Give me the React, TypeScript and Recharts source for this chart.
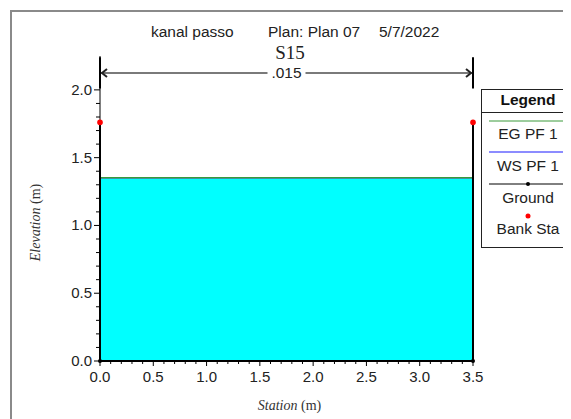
import { ComposedChart, Area, Line, Scatter, XAxis, YAxis, ReferenceLine } from "recharts";

// header text
const projectName = "kanal passo";
const planName = "Plan: Plan 07";
const planDate = "5/7/2022";
const sectionName = "S15";
const manningN = ".015";

// ground profile
const groundStation = [0, 0, 3.5, 3.5];
const groundElev = [1.76, 0, 0, 1.76];

// bank stations
const bankStation = [0, 3.5];
const bankElev = [1.76, 1.76];

// water surface
const waterStation = [0, 3.5];
const wsElev = [1.35, 1.35];
const egElev = [1.352, 1.352];

// ticks
const xTicks = [0, 0.1, 0.2, 0.3, 0.4, 0.5, 0.6, 0.7, 0.8, 0.9, 1, 1.1, 1.2, 1.3, 1.4, 1.5, 1.6, 1.7, 1.8, 1.9, 2, 2.1, 2.2, 2.3, 2.4, 2.5, 2.6, 2.7, 2.8, 2.9, 3, 3.1, 3.2, 3.3, 3.4, 3.5];
const xMajor = [0, 0.5, 1, 1.5, 2, 2.5, 3, 3.5];
const yTicks = [0, 0.1, 0.2, 0.3, 0.4, 0.5, 0.6, 0.7, 0.8, 0.9, 1, 1.1, 1.2, 1.3, 1.4, 1.5, 1.6, 1.7, 1.8, 1.9, 2];
const yMajor = [0, 0.5, 1, 1.5, 2];

// n-value marker above the section
const markerLow = 2.01;
const markerHigh = 2.24;
const arrowElev = 2.125;

const legendItems = ["EG PF 1", "WS PF 1", "Ground", "Bank Sta"];

const groundData = groundStation.map((x, i) => ({ x, y: groundElev[i] }));
const bankData = bankStation.map((x, i) => ({ x, y: bankElev[i] }));
const waterData = waterStation.map((x, i) => ({ x, ws: wsElev[i], eg: egElev[i] }));

const sans = "Arial, 'Liberation Sans', sans-serif";
const serif = "'Times New Roman', 'Liberation Serif', serif";

const YTick = (props: any) => {
  const { x, y, payload } = props;
  const major = yMajor.includes(payload.value);
  return (
    <g>
      <line x1={x} x2={x - (major ? 6 : 4)} y1={y} y2={y} stroke="#000" />
      {major && (
        <text x={x - 8} y={y + 5} textAnchor="end" fontFamily={sans} fontSize={15} fill="#222">
          {payload.value.toFixed(1)}
        </text>
      )}
    </g>
  );
};

const XTick = (props: any) => {
  const { x, y, payload } = props;
  const major = xMajor.includes(payload.value);
  return (
    <g>
      <line x1={x} x2={x} y1={y} y2={y + (major ? 5 : 3)} stroke="#000" />
      {major && (
        <text x={x} y={y + 21} textAnchor="middle" fontFamily={sans} fontSize={15} fill="#222">
          {payload.value.toFixed(1)}
        </text>
      )}
    </g>
  );
};

const YLabel = (props: any) => {
  const { viewBox } = props;
  const cx = viewBox.x - 15;
  const cy = viewBox.y + viewBox.height / 2 + 14;
  return (
    <text x={cx} y={cy} transform={`rotate(-90 ${cx} ${cy})`} textAnchor="middle" fontFamily={serif} fontSize={14} fill="#333" dy={5}>
      <tspan fontStyle="italic">Elevation</tspan>
      <tspan> (m)</tspan>
    </text>
  );
};

const XLabel = (props: any) => {
  const { viewBox } = props;
  return (
    <text x={viewBox.x + viewBox.width / 2 + 3} y={viewBox.y + 49} textAnchor="middle" fontFamily={serif} fontSize={14} fill="#333">
      <tspan fontStyle="italic">Station</tspan>
      <tspan> (m)</tspan>
    </text>
  );
};

const ArrowShape = (props: any) => {
  const { x1, y1, x2 } = props;
  const mid = (x1 + x2) / 2;
  return (
    <g>
      <line x1={x1 + 1} x2={mid - 19} y1={y1} y2={y1} stroke="#7a7a7a" strokeWidth={2} />
      <line x1={mid + 19} x2={x2 - 1} y1={y1} y2={y1} stroke="#7a7a7a" strokeWidth={2} />
      <polyline points={`${x1 + 7},${y1 - 4} ${x1 + 2},${y1} ${x1 + 7},${y1 + 4}`} fill="none" stroke="#222" strokeWidth={2} />
      <polyline points={`${x2 - 7},${y1 - 4} ${x2 - 2},${y1} ${x2 - 7},${y1 + 4}`} fill="none" stroke="#222" strokeWidth={2} />
      <text x={mid} y={y1 + 5} textAnchor="middle" fontFamily={sans} fontSize={15.5} fill="#222">
        {manningN}
      </text>
    </g>
  );
};

const Legend = () => {
  const cx = 47;
  return (
    <svg width={90} height={160} style={{ position: "absolute", left: 473, top: 81 }}>
      <rect x={0.5} y={0.5} width={88} height={158} fill="#fff" stroke="#222" />
      <text x={cx} y={16} textAnchor="middle" fontFamily={sans} fontWeight="bold" fontSize={15.5} fill="#111">Legend</text>
      <line x1={0.5} x2={88.5} y1={23.5} y2={23.5} stroke="#222" />
      <line x1={8} x2={88} y1={32} y2={32} stroke="#3a9a3a" />
      <text x={cx} y={50} textAnchor="middle" fontFamily={sans} fontSize={15.5} fill="#222">{legendItems[0]}</text>
      <line x1={8} x2={88} y1={63} y2={63} stroke="#6666ff" strokeWidth={1.5} />
      <text x={cx} y={82} textAnchor="middle" fontFamily={sans} fontSize={15.5} fill="#222">{legendItems[1]}</text>
      <line x1={8} x2={88} y1={95} y2={95} stroke="#000" />
      <circle cx={cx} cy={95} r={2} fill="#000" />
      <text x={cx} y={114} textAnchor="middle" fontFamily={sans} fontSize={15.5} fill="#222">{legendItems[2]}</text>
      <circle cx={cx} cy={127} r={2.5} fill="#ff0000" />
      <text x={cx} y={145} textAnchor="middle" fontFamily={sans} fontSize={15.5} fill="#222">{legendItems[3]}</text>
    </svg>
  );
};

const headerText = { position: "absolute" as const, top: 15, fontFamily: sans, fontSize: 15.5, color: "#222", whiteSpace: "pre" as const, lineHeight: "18px" };

export default function App() {
  return (
    <div style={{ position: "relative", width: 563, height: 411, overflow: "hidden", background: "#fff" }}>
      <div style={{ position: "absolute", left: 2, top: 2, width: 1000, height: 1000, borderLeft: "2px solid #8a8a8a", borderTop: "2px solid #8a8a8a" }} />
      <div style={{ ...headerText, left: 143 }}>{projectName}</div>
      <div style={{ ...headerText, left: 260 }}>{planName}</div>
      <div style={{ ...headerText, left: 371 }}>{planDate}</div>
      <div style={{ position: "absolute", left: 182, width: 200, top: 34, textAlign: "center", fontFamily: serif, fontSize: 19, color: "#222", lineHeight: "22px" }}>
        {sectionName}
      </div>
      <ComposedChart width={563} height={411} margin={{ top: 48, right: 98, left: 42, bottom: 18 }} style={{ position: "absolute", left: 0, top: 0 }}>
        <XAxis
          type="number"
          dataKey="x"
          domain={[0, 3.5]}
          ticks={xTicks}
          interval={0}
          tickSize={0}
          tickMargin={0}
          tickLine={false}
          tick={<XTick />}
          axisLine={{ stroke: "#000" }}
          height={40}
          label={<XLabel />}
        />
        <YAxis
          type="number"
          domain={[0, 2.25]}
          ticks={yTicks}
          interval={0}
          tickSize={0}
          tickMargin={0}
          tickLine={false}
          tick={<YTick />}
          axisLine={{ stroke: "#000" }}
          width={50}
          label={<YLabel />}
        />
        <Area data={waterData} dataKey="ws" type="linear" fill="#00ffff" fillOpacity={1} stroke="none" baseValue={0} isAnimationActive={false} />
        <Line data={waterData} dataKey="ws" type="linear" stroke="#6666ff" strokeWidth={1.5} dot={false} isAnimationActive={false} />
        <Line data={waterData} dataKey="eg" type="linear" stroke="#3a9a3a" strokeWidth={1.5} dot={false} isAnimationActive={false} />
        <Line data={groundData} dataKey="y" type="linear" stroke="#000" strokeWidth={2} dot={{ r: 2, fill: "#000", stroke: "none" }} isAnimationActive={false} />
        <Scatter data={bankData} dataKey="y" fill="#ff0000" shape={(p: any) => <circle cx={p.cx} cy={p.cy} r={2.8} fill="#ff0000" />} isAnimationActive={false} />
        <ReferenceLine segment={[{ x: 0, y: markerLow }, { x: 0, y: markerHigh }]} stroke="#000" strokeWidth={2} />
        <ReferenceLine segment={[{ x: 3.5, y: markerLow }, { x: 3.5, y: markerHigh }]} stroke="#000" strokeWidth={2} />
        <ReferenceLine segment={[{ x: 0, y: arrowElev }, { x: 3.5, y: arrowElev }]} shape={<ArrowShape />} />
      </ComposedChart>
      <Legend />
    </div>
  );
}
